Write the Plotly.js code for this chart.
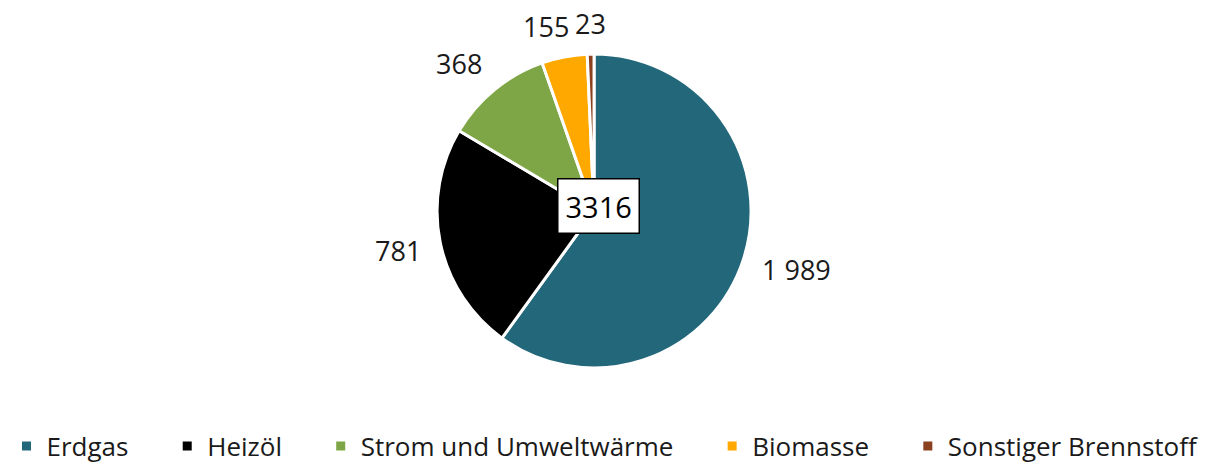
<!DOCTYPE html>
<html>
<head>
<meta charset="utf-8">
<script src="https://cdn.plot.ly/plotly-3.0.1.min.js"></script>
<style>
  html, body { margin:0; padding:0; background:#fff; }
  #chart { width:1210px; height:465px; }
</style>
</head>
<body>
<div id="chart"></div>
<script>
const labels = ['Erdgas','Heizöl','Strom und Umweltwärme','Biomasse','Sonstiger Brennstoff'];
const values = [1989, 781, 368, 155, 23];
const colors = ['#22677A','#000000','#7FA646','#FFA800','#8B4020'];

const W = 1210, H = 465;
const font = "'Open Sans', 'Noto Sans', sans-serif";
const lblSize = 27;

// thousands separator as a space, like "1 989"
const fmtNum = v => String(v).replace(/\B(?=(\d{3})+(?!\d))/g, ' ');
const total = values.reduce((a,b)=>a+b,0);

const dom = {x:[0.3612, 0.6207], y:[0.2086, 0.8839]};

const totalBox = {
  text: String(total), x:0.495, y:0.556, xref:'paper', yref:'paper', showarrow:false,
  xanchor:'center', yanchor:'middle',
  font:{family:font, size:29, color:'#000'},
  bgcolor:'#fff', bordercolor:'#000', borderwidth:1.5, borderpad:7
};

// value labels outside the slices, from slice mid angles and the drawn pie geometry
function valueLabels(gd){
  const cd0 = gd.calcdata[0][0];
  const cx = cd0.cx, cy = cd0.cy, rad = cd0.r;
  const ctx = document.createElement('canvas').getContext('2d');
  ctx.font = lblSize + 'px ' + font;
  const gap = 20;
  let cum = 0;
  const boxes = values.map(v=>{
    const mid = (cum + v/2)/total*2*Math.PI; cum += v;
    const dx = Math.sin(mid), dy = -Math.cos(mid);
    const px = cx + dx*(rad+gap), py = cy + dy*(rad+gap);
    const w = ctx.measureText(fmtNum(v)).width, h = lblSize*1.1;
    const x = dx > 0.3 ? px + w/2 : dx < -0.3 ? px - w/2 : px;
    const y = dy > 0.5 ? py + h/2 : dy < -0.5 ? py - h/2 : py;
    return {text:fmtNum(v), x, y, w, h};
  });
  // push overlapping neighbours apart (move the earlier one counter-clockwise)
  for(let i=boxes.length-1;i>0;i--){
    const a=boxes[i-1], b=boxes[i];
    if(Math.abs(a.y-b.y) < (a.h+b.h)/2){
      const overlap = (a.x+a.w/2) - (b.x-b.w/2) + 6;
      if(overlap>0 && a.x<b.x) a.x -= overlap;
    }
  }
  return boxes.map(b=>({
    text:b.text, x:b.x/W, y:1-b.y/H, xref:'paper', yref:'paper',
    xanchor:'center', yanchor:'middle', showarrow:false, yshift:-4,
    font:{family:font, size:lblSize, color:'#1a1a1a'}
  }));
}

// extra trailing space between legend entries
const pad = '\u00a0'.repeat(5);

Plotly.newPlot('chart', [{
  type:'pie',
  labels: labels.map((l,i)=> i<labels.length-1 ? l+pad : l),
  values: values,
  textinfo:'none',
  sort:false,
  direction:'clockwise',
  rotation:0,
  marker:{colors: colors, line:{color:'#fff', width:3}},
  hoverinfo:'label+value',
  domain:dom
}], {
  width:W, height:H,
  margin:{l:0, r:0, t:0, b:0, autoexpand:false},
  paper_bgcolor:'#fff',
  font:{family:font, size:26, color:'#1a1a1a'},
  showlegend:true,
  legend:{orientation:'h', x:0.5, xanchor:'center', y:-0.01, yanchor:'bottom',
          font:{family:font, size:26, color:'#1a1a1a'}},
  annotations:[totalBox]
}, {displayModeBar:false}).then(gd=>{
  Plotly.relayout(gd, {annotations:[...valueLabels(gd), totalBox]});
});
</script>
</body>
</html>
